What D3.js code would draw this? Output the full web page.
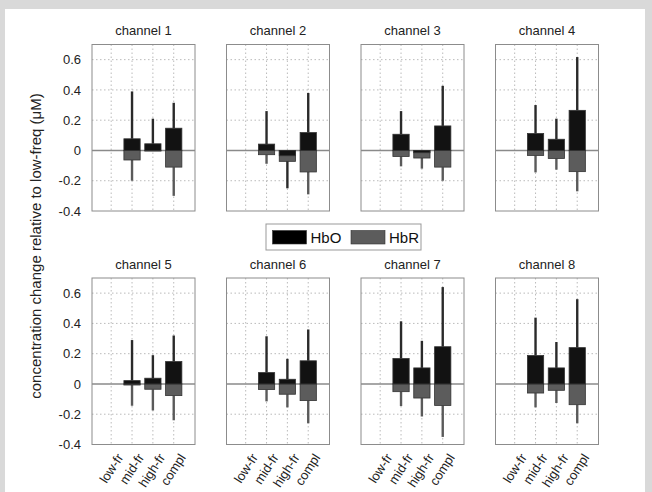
<!DOCTYPE html>
<html><head><meta charset="utf-8">
<script src="https://cdn.jsdelivr.net/npm/d3@7"></script>
<style>
html,body{margin:0;padding:0;background:#d9d9d9;}
svg{display:block;font-family:"Liberation Sans",Arial,sans-serif;}
</style></head>
<body>
<svg id="chart" width="652" height="492"></svg>
<script>
const categories = ["low-fr","mid-fr","high-fr","compl"];
const channels = ["channel 1","channel 2","channel 3","channel 4","channel 5","channel 6","channel 7","channel 8"];
const yTicks = [-0.4,-0.2,0,0.2,0.4,0.6];
const yTickLabels = ["-0.4","-0.2","0","0.2","0.4","0.6"];
// bar heights per channel (low, mid, high, compl)
const hboMean = [
  [0,0.077,0.044,0.147],[0,0.042,-0.035,0.118],[0,0.107,-0.015,0.162],[0,0.112,0.074,0.265],
  [0,0.022,0.038,0.148],[0,0.075,0.031,0.153],[0,0.168,0.106,0.246],[0,0.188,0.106,0.240]];
const hbrMean = [
  [0,-0.063,-0.004,-0.110],[0,-0.028,-0.072,-0.142],[0,-0.040,-0.050,-0.110],[0,-0.033,-0.053,-0.140],
  [0,-0.007,-0.035,-0.077],[0,-0.037,-0.068,-0.110],[0,-0.051,-0.093,-0.142],[0,-0.060,-0.042,-0.137]];
// whisker end values
const hboWhisker = [
  [0,0.39,0.21,0.315],[0,0.26,-0.25,0.38],[0,0.26,-0.015,0.427],[0,0.30,0.21,0.617],
  [0,0.29,0.19,0.32],[0,0.315,0.166,0.36],[0,0.414,0.285,0.64],[0,0.438,0.277,0.56]];
const hbrWhisker = [
  [0,-0.20,-0.004,-0.30],[0,-0.088,-0.072,-0.29],[0,-0.105,-0.12,-0.20],[0,-0.145,-0.127,-0.27],
  [0,-0.144,-0.175,-0.24],[0,-0.115,-0.155,-0.26],[0,-0.146,-0.215,-0.35],[0,-0.155,-0.126,-0.26]];
const legendLabels = ["HbO","HbR"];

const svg = d3.select("#chart");
svg.append("rect").attr("x",5).attr("y",9).attr("width",640).attr("height",483).attr("fill","#fff");

const colO = "#121212", colR = "#5c5c5c";
const panelW = 103, panelH = 166.5, step = 134.5;
const lefts = [92, 92+step, 92+2*step, 92+3*step];
const tops = [44.5, 278];

channels.forEach((name, ci) => {
  const row = Math.floor(ci/4), col = ci % 4;
  const g = svg.append("g").attr("transform", `translate(${lefts[col]},${tops[row]})`);
  const x = d3.scaleLinear().domain([0.08, 5.02]).range([0, panelW]);
  const y = d3.scaleLinear().domain([-0.4, 0.7]).range([panelH, 0]);
  const bw = x(1.78) - x(1);

  // grid
  g.selectAll(".vg").data(categories).enter().append("line")
    .attr("x1",(d,i)=>x(i+1)).attr("x2",(d,i)=>x(i+1)).attr("y1",0).attr("y2",panelH)
    .attr("stroke","#aaa").attr("stroke-width",0.8).attr("stroke-dasharray","1.5,2.5");
  g.selectAll(".hg").data(yTicks.filter(t=>t!==0 && t!==-0.4)).enter().append("line")
    .attr("x1",0).attr("x2",panelW).attr("y1",d=>y(d)).attr("y2",d=>y(d))
    .attr("stroke","#aaa").attr("stroke-width",0.8).attr("stroke-dasharray","1.5,2.5");

  // zero line
  g.append("line").attr("x1",0).attr("x2",panelW).attr("y1",y(0)).attr("y2",y(0))
    .attr("stroke","#8a8a8a").attr("stroke-width",1.6);

  const idx = d3.range(categories.length);
  // whiskers
  g.selectAll(".wo").data(idx).enter().append("line")
    .attr("x1",i=>x(i+1)).attr("x2",i=>x(i+1))
    .attr("y1",i=>y(hboMean[ci][i])).attr("y2",i=>y(hboWhisker[ci][i]))
    .attr("stroke","#2a2a2a").attr("stroke-width",2.4);
  g.selectAll(".wr").data(idx).enter().append("line")
    .attr("x1",i=>x(i+1)).attr("x2",i=>x(i+1))
    .attr("y1",i=>y(hbrMean[ci][i])).attr("y2",i=>y(hbrWhisker[ci][i]))
    .attr("stroke","#5a5a5a").attr("stroke-width",2.4);
  // bars
  const drawBars = (vals, fill) => {
    g.selectAll(null).data(idx.filter(i=>vals[ci][i]!==0)).enter().append("rect")
      .attr("x",i=>x(i+1)-bw/2).attr("width",bw)
      .attr("y",i=>y(Math.max(0,vals[ci][i])))
      .attr("height",i=>Math.abs(y(vals[ci][i])-y(0)))
      .attr("fill",fill).attr("stroke","#333").attr("stroke-width",0.8);
  };
  drawBars(hbrMean, colR);
  drawBars(hboMean, colO);

  // frame
  g.append("rect").attr("x",0).attr("y",0).attr("width",panelW).attr("height",panelH)
    .attr("fill","none").attr("stroke","#8c8c8c").attr("stroke-width",1);

  // title
  g.append("text").attr("x",panelW/2).attr("y",-9.5).attr("text-anchor","middle")
    .attr("font-size",13).attr("fill","#222").text(name);

  // y tick labels
  if (col === 0) {
    g.selectAll(".yl").data(yTicks).enter().append("text")
      .attr("x",-11).attr("y",d=>y(d)).attr("dy","0.36em").attr("text-anchor","end")
      .attr("font-size",13).attr("fill","#222")
      .text((d,i)=>yTickLabels[i]);
  }
  // x tick labels
  if (row === 1) {
    g.selectAll(".xl").data(categories).enter().append("text")
      .attr("transform",(d,i)=>`translate(${x(i+1)+5},${panelH+8}) rotate(-57)`)
      .attr("text-anchor","end").attr("dy","0.7em")
      .attr("font-size",13).attr("fill","#222").text(d=>d);
  }
});

// y axis label
svg.append("text").attr("transform","translate(41,246) rotate(-90)")
  .attr("text-anchor","middle").attr("font-size",15).attr("fill","#222")
  .text("concentration change relative to low-freq (\u03bcM)");

// legend
const lg = svg.append("g").attr("transform","translate(266,224)");
lg.append("rect").attr("x",0).attr("y",0).attr("width",155).attr("height",26)
  .attr("fill","#fff").attr("stroke","#999").attr("stroke-width",1);
legendLabels.forEach((lab,i)=>{
  const ox = 6.5 + i*78.5;
  lg.append("rect").attr("x",ox).attr("y",6.5).attr("width",34).attr("height",13.5)
    .attr("fill",i===0?"#000":colR).attr("stroke","#333").attr("stroke-width",0.6);
  lg.append("text").attr("x",ox+38).attr("y",13.5).attr("dy","0.36em")
    .attr("font-size",15).attr("fill","#111").text(lab);
});
</script>
</body></html>
